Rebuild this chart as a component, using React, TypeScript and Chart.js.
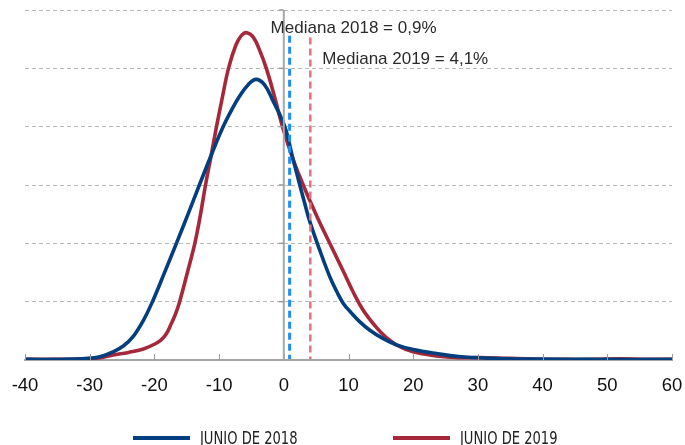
import React, { useEffect, useRef } from "react";
import { Chart, registerables } from "chart.js";

Chart.register(...registerables);

// ---- Data ----
const xMin = -40;
const xMax = 60;
const xStep = 10;
const yMin = 0;
const yMax = 6;
const yStep = 1;

const junio2018X = [-40, -34, -30, -28.4, -26.4, -24.8, -23.3, -21.7, -20.3, -18.5, -16.6, -14.8, -13.05, -10.9, -9.5, -8, -6.8, -5.5, -4.3, -3, -1.7, 0.15, 1.3, 2.47, 3.2, 4.0, 5.5, 7.1, 8.2, 9.2, 10.5, 11.8, 13.3, 15.3, 17.4, 20, 23.6, 27, 31.8, 38, 48, 60];
const junio2018Y = [0.01, 0.012, 0.03, 0.055, 0.14, 0.24, 0.4, 0.68, 1.0, 1.48, 2.0, 2.5, 3.0, 3.6, 3.97, 4.3, 4.53, 4.72, 4.81, 4.72, 4.45, 4.0, 3.5, 3.0, 2.7, 2.38, 1.9, 1.43, 1.17, 0.97, 0.8, 0.65, 0.51, 0.37, 0.26, 0.18, 0.11, 0.06, 0.03, 0.015, 0.01, 0.01];

const junio2019X = [-40, -34, -30, -28, -26.4, -24, -21.7, -20, -19, -18.2, -17.4, -16.7, -16.1, -14.9, -13.75, -12.9, -12.1, -11.2, -10.4, -9.5, -8.55, -7.4, -6.5, -5.7, -4.7, -3.7, -2.7, -1.4, -0.2, 1.4, 3.0, 4.0, 5.5, 7.1, 9.2, 10.7, 12.3, 14.3, 15.8, 17.4, 20, 23.6, 27, 30, 33, 37, 44, 48, 52, 56, 60];
const junio2019Y = [0.01, 0.012, 0.025, 0.045, 0.085, 0.13, 0.19, 0.27, 0.34, 0.44, 0.62, 0.8, 1.0, 1.5, 2.0, 2.48, 3.0, 3.52, 4.0, 4.5, 5.0, 5.4, 5.57, 5.61, 5.53, 5.3, 5.0, 4.5, 4.0, 3.45, 3.0, 2.74, 2.37, 2.0, 1.52, 1.17, 0.85, 0.56, 0.39, 0.26, 0.14, 0.07, 0.04, 0.04, 0.035, 0.02, 0.01, 0.012, 0.022, 0.012, 0.01];

const seriesLabels = ["JUNIO DE 2018", "JUNIO DE 2019"];
const medianYears = ["2018", "2019"];
const medianValues = [0.9, 4.1];

// ---- Styles ----
const COLOR_2018 = "#033f7e";
const COLOR_2019 = "#a5283b";
const MEDIAN_COLORS = ["#1f8ef4", "#e27282"];
const FONT = "'Liberation Sans', Arial, Helvetica, sans-serif";
const NARROW_FONT = "'Liberation Sans Narrow', 'Arial Narrow', 'DejaVu Sans Condensed', sans-serif";

const medianStyle = [
  { top: 5.56, width: 3, labelY: 5.6, dx: -19 },
  { top: 5.53, width: 2.5, labelY: 5.07, dx: 12 },
];

const fmt = (v: number) => v.toFixed(1).replace(".", ",");

const toPoints = (xs: number[], ys: number[]) => xs.map((x, i) => ({ x, y: ys[i] }));

const axisDecorPlugin = {
  id: "axisDecor",
  afterDraw(chart: any) {
    const { ctx, scales, chartArea } = chart;
    const x = scales.x;
    const y = scales.y;
    const base = y.getPixelForValue(0);
    const x0 = x.getPixelForValue(0);
    ctx.save();
    ctx.strokeStyle = "#9a9a9a";
    ctx.lineWidth = 1;
    x.ticks.forEach((t: any) => {
      const px = Math.round(x.getPixelForValue(t.value)) + 0.5;
      ctx.beginPath();
      ctx.moveTo(px, base);
      ctx.lineTo(px, base - 6);
      ctx.stroke();
    });
    ctx.strokeStyle = "#a8a8a8";
    ctx.lineWidth = 2;
    ctx.beginPath();
    ctx.moveTo(x0, chartArea.top);
    ctx.lineTo(x0, base);
    ctx.stroke();
    ctx.strokeStyle = "#9a9a9a";
    ctx.lineWidth = 1.5;
    y.ticks.forEach((t: any) => {
      if (t.value === 0) return;
      const py = y.getPixelForValue(t.value);
      ctx.beginPath();
      ctx.moveTo(x0 - 5, py);
      ctx.lineTo(x0, py);
      ctx.stroke();
    });
    ctx.restore();
  },
};

const medianPlugin = {
  id: "medians",
  afterDraw(chart: any) {
    const { ctx, scales } = chart;
    const x = scales.x;
    const y = scales.y;
    medianValues.forEach((m, i) => {
      const st = medianStyle[i];
      const px = x.getPixelForValue(m);
      ctx.save();
      ctx.setLineDash([7, 4]);
      ctx.lineWidth = st.width;
      ctx.strokeStyle = MEDIAN_COLORS[i];
      ctx.beginPath();
      ctx.moveTo(px, y.getPixelForValue(st.top));
      ctx.lineTo(px, y.getPixelForValue(0) - 1);
      ctx.stroke();
      ctx.restore();
    });
    medianValues.forEach((m, i) => {
      const st = medianStyle[i];
      const px = x.getPixelForValue(m);
      ctx.save();
      ctx.font = `17px ${FONT}`;
      ctx.fillStyle = "#2a2a2a";
      ctx.textAlign = "left";
      ctx.textBaseline = "alphabetic";
      ctx.fillText(`Mediana ${medianYears[i]} = ${fmt(m)}%`, px + st.dx, y.getPixelForValue(st.labelY));
      ctx.restore();
    });
  },
};

export default function App() {
  const ref = useRef<HTMLCanvasElement | null>(null);

  useEffect(() => {
    if (!ref.current) return;
    const chart = new Chart(ref.current, {
      type: "line",
      data: {
        datasets: [
          {
            label: seriesLabels[0],
            data: toPoints(junio2018X, junio2018Y),
            borderColor: COLOR_2018,
            backgroundColor: COLOR_2018,
            borderWidth: 3.6,
            pointRadius: 0,
            tension: 0.4,
            fill: false,
          },
          {
            label: seriesLabels[1],
            data: toPoints(junio2019X, junio2019Y),
            borderColor: COLOR_2019,
            backgroundColor: COLOR_2019,
            borderWidth: 3.6,
            pointRadius: 0,
            tension: 0.4,
            fill: false,
          },
        ],
      },
      options: {
        responsive: false,
        animation: false,
        layout: { padding: { left: 25, right: 13, top: 10, bottom: 48 } },
        plugins: {
          legend: { display: false },
          tooltip: { enabled: false },
        },
        scales: {
          x: {
            type: "linear",
            min: xMin,
            max: xMax,
            afterFit: (s: any) => {
              s.paddingLeft = 0;
              s.paddingRight = 0;
              s.height = 37;
            },
            ticks: {
              stepSize: xStep,
              padding: 15,
              color: "#111",
              maxRotation: 0,
              font: { family: FONT, size: 18.5 },
            },
            grid: { display: true, drawOnChartArea: false, drawTicks: false },
            border: { display: true, color: "#a4a4a4", width: 2 },
          },
          y: {
            type: "linear",
            position: "left",
            min: yMin,
            max: yMax,
            afterFit: (s: any) => {
              s.width = 0;
              s.paddingTop = 0;
              s.paddingBottom = 0;
            },
            ticks: { stepSize: yStep, display: false },
            grid: {
              color: (c: any) => (c.tick && c.tick.value === 0 ? "rgba(0,0,0,0)" : "#b9b9b9"),
              lineWidth: 1,
              drawTicks: false,
            },
            border: { display: false, dash: [4, 3] },
          },
        },
      },
      plugins: [axisDecorPlugin, medianPlugin],
    });
    return () => chart.destroy();
  }, []);

  const legendItem = (label: string, color: string) => (
    <div style={{ display: "flex", alignItems: "center", width: 164 }}>
      <div style={{ width: 57, height: 4, background: color, flex: "none" }} />
      <span
        style={{
          marginLeft: 10,
          fontFamily: NARROW_FONT,
          fontSize: 18,
          lineHeight: "18px",
          color: "#222",
          whiteSpace: "nowrap",
          display: "inline-block",
          transform: "scaleX(0.81)",
          transformOrigin: "left center",
        }}
      >
        {label}
      </span>
    </div>
  );

  return (
    <div style={{ position: "fixed", left: 0, top: 0, width: 685, height: 445, background: "#fff", overflow: "hidden" }}>
      <canvas ref={ref} width={685} height={445} style={{ display: "block" }} />
      <div
        style={{
          position: "absolute",
          left: 133,
          top: 429,
          display: "flex",
          alignItems: "center",
          gap: 96,
        }}
      >
        {legendItem(seriesLabels[0], COLOR_2018)}
        {legendItem(seriesLabels[1], COLOR_2019)}
      </div>
    </div>
  );
}
